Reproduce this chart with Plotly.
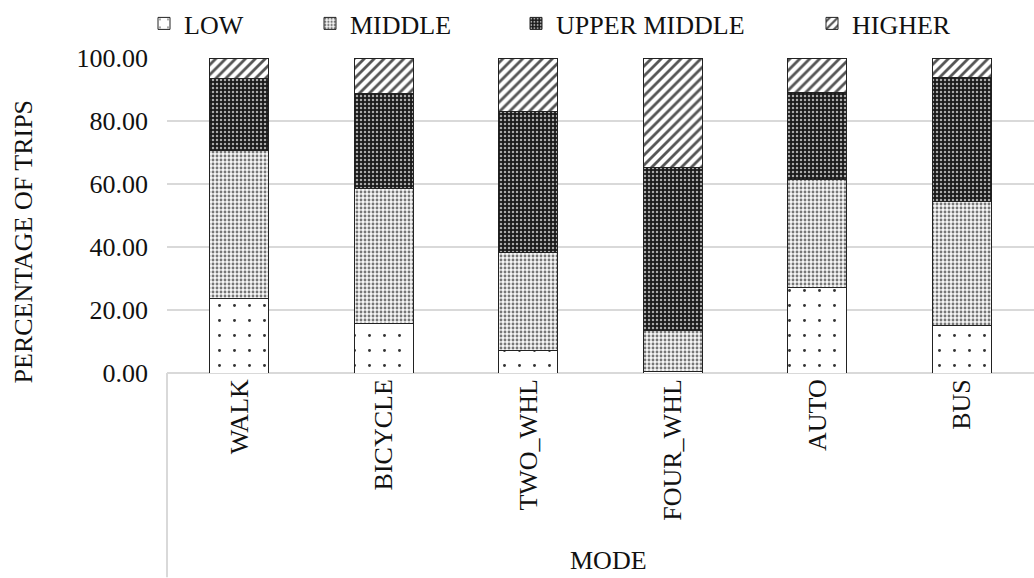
import plotly.graph_objects as go

modes = ["WALK", "BICYCLE", "TWO_WHL", "FOUR_WHL", "AUTO", "BUS"]
low = [23.7, 15.8, 7.0, 0.6, 27.3, 15.2]
middle = [46.9, 42.8, 31.3, 13.0, 34.2, 39.3]
upper_middle = [22.8, 30.2, 44.7, 51.7, 27.7, 39.2]
higher = [6.6, 11.2, 17.0, 34.7, 10.8, 6.3]
series_names = ["LOW", "MIDDLE", "UPPER MIDDLE", "HIGHER"]
y_ticks = [0, 20, 40, 60, 80, 100]

FONT = "Liberation Serif"
FS = 26
TXT = "#111111"
W, H = 1034, 578
L, R, T, B = 167, 0, 57, 205

styles = [
    dict(color="white", pattern=dict(shape=".", fgcolor="#333333", bgcolor="white", size=15, solidity=0.03, fillmode="replace")),
    dict(color="white", pattern=dict(shape=".", fgcolor="#777777", bgcolor="#f6f6f6", size=4, solidity=0.4, fillmode="replace")),
    dict(color="#111111", pattern=dict(shape=".", fgcolor="#aaaaaa", bgcolor="#1a1a1a", size=4, solidity=0.3, fillmode="replace")),
    dict(color="white", pattern=dict(shape="/", fgcolor="#555555", bgcolor="white", size=7, solidity=0.4, fillmode="replace")),
]

fig = go.Figure()
legend_ids = ["legend", "legend2", "legend3", "legend4"]
for name, vals, st, lg in zip(series_names, [low, middle, upper_middle, higher], styles, legend_ids):
    fig.add_trace(go.Bar(
        x=modes, y=vals,
        name=f"<span style='font-family:\"Liberation Serif\", serif'>{name}</span>",
        legend=lg,
        marker=dict(color=st["color"], pattern=st["pattern"], line=dict(color="#222222", width=1)),
    ))

# left edges of legend entries (pixels)
legend_x_px = [144, 310, 516, 812]

def px_x(p):
    return (p - L) / (W - L - R)

def px_y(p):
    return (H - B - p) / (H - T - B)

legend_font = dict(family=FONT, size=FS, color=TXT)
legs = {}
for lg, xp in zip(legend_ids, legend_x_px):
    legs[lg] = dict(orientation="h", yanchor="middle", y=px_y(22), xanchor="left",
                    x=px_x(xp), font=legend_font, bgcolor="rgba(0,0,0,0)")

fig.update_layout(
    template="none",
    width=W, height=H,
    margin=dict(l=L, r=R, t=T, b=B),
    paper_bgcolor="white", plot_bgcolor="white",
    barmode="stack", bargap=0.59,
    font=dict(family=FONT, size=FS, color=TXT),
    showlegend=True,
    xaxis=dict(
        tickangle=-90, showgrid=False, showline=False, ticks="",
        tickfont=dict(family=FONT, size=FS, color=TXT),
        automargin=False,
    ),
    yaxis=dict(
        range=[0, 100], tickvals=y_ticks, tickformat=".2f",
        showgrid=True, gridcolor="#d9d9d9", gridwidth=2,
        zeroline=True, zerolinecolor="#d9d9d9", zerolinewidth=2,
        showline=False, ticks="", ticklen=0, ticklabelstandoff=18,
        tickfont=dict(family=FONT, size=FS, color=TXT),
        automargin=False,
    ),
    **legs,
)

fig.add_annotation(text="PERCENTAGE OF TRIPS", textangle=-90, showarrow=False,
                   xref="paper", yref="paper", x=px_x(23), y=px_y(241),
                   xanchor="center", yanchor="middle",
                   font=dict(family=FONT, size=FS, color=TXT))
fig.add_annotation(text="MODE", showarrow=False,
                   xref="paper", yref="paper", x=px_x(608), y=px_y(561),
                   xanchor="center", yanchor="middle",
                   font=dict(family=FONT, size=FS, color=TXT))

fig.add_shape(type="line", xref="paper", yref="paper", x0=0, x1=0, y0=0, y1=px_y(H),
              line=dict(color="#d9d9d9", width=2))

fig.write_html("out.html")
